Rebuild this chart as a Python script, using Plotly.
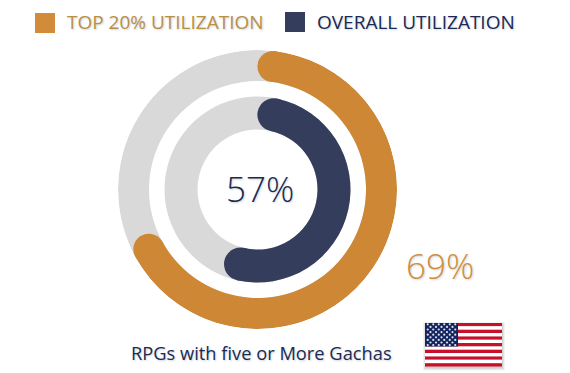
import math
import plotly.graph_objects as go

# ---- data ----
series_names = ["TOP 20% UTILIZATION", "OVERALL UTILIZATION"]
series_values = [69, 57]
caption = "RPGs with five or More Gachas"

# ---- style ----
ORANGE = "#CD8735"
NAVY = "#343D5C"
GREY = "#D9D9D9"
TEXT_ORANGE = "#B98F45"
TEXT_NAVY = "#1B2A52"
FONT = "Open Sans"
W, H = 570, 373
CX, CY, R = 257.5, 189.5, 139.5
rings = [(108.5, 139.5, ORANGE), (60.0, 93.0, NAVY)]

fig = go.Figure()

# hidden pixel-space axes for decorations
fig.add_trace(go.Scatter(x=[], y=[], xaxis="x", yaxis="y", showlegend=False))

for value, (r0, r1, color) in zip(series_values, rings):
    thick = r1 - r0
    mid = (r0 + r1) / 2
    cap = math.degrees((thick / 2) / mid)
    end = value * 3.6
    fig.add_trace(go.Barpolar(r=[thick], base=[r0], theta=[180], width=[359.99],
                              marker=dict(color=GREY, line_width=0), showlegend=False))
    a0, a1 = cap, end - cap
    fig.add_trace(go.Barpolar(r=[thick], base=[r0], theta=[(a0 + a1) / 2], width=[a1 - a0],
                              marker=dict(color=color, line_width=0), showlegend=False))
    fig.add_trace(go.Scatterpolar(r=[mid, mid], theta=[a0, a1], mode="markers",
                                  marker=dict(color=color, size=thick, line_width=0),
                                  showlegend=False))

shapes = []
def rect(x0, y0, x1, y1, color, op=1.0):
    shapes.append(dict(type="rect", xref="x", yref="y", x0=x0, y0=y0, x1=x1, y1=y1,
                       fillcolor=color, opacity=op, line_width=0, layer="below"))

# legend swatches
rect(35, 13, 55, 33, "#D28B3A")
rect(285, 12, 305, 32, NAVY)

# flag: soft shadow, stripes, canton
FX0, FX1, FY0, FY1 = 425.0, 502.0, 323.0, 366.5
for off, op in ((3, 0.07), (2, 0.10), (1, 0.14)):
    rect(FX0 - off + 1, FY0 - off + 2, FX1 + off, FY1 + off + 1, "#555555", op)
sh = (FY1 - FY0) / 13
for i in range(13):
    rect(FX0, FY0 + i * sh, FX1, FY0 + (i + 1) * sh, "#C8102A" if i % 2 == 0 else "#FFFFFF")
CANT_X, CANT_Y = 458.0, FY0 + 7 * sh
rect(FX0, FY0, CANT_X, CANT_Y, "#14245E")

sx, sy = [], []
for row in range(9):
    n = 6 if row % 2 == 0 else 5
    for c in range(n):
        sx.append(FX0 + (CANT_X - FX0) * ((c + (0 if row % 2 == 0 else 0.5) + 0.5) / 6))
        sy.append(FY0 + (CANT_Y - FY0) * ((row + 0.5) / 9))
fig.add_trace(go.Scatter(x=sx, y=sy, mode="markers", xaxis="x", yaxis="y", showlegend=False,
                         marker=dict(symbol="circle", size=2.2, color="#DDE2F0", line_width=0)))

def label(text, x, y, size, color, anchor="left", weight=400):
    return dict(text=text, x=x, y=y, xref="x", yref="y", showarrow=False, xanchor=anchor,
                yanchor="middle",
                font=dict(family=FONT, size=size, color=color, weight=weight,
                          shadow="1px 1px 2px rgba(90,110,130,0.3)"))

annotations = [
    label(series_names[0], 65, 22, 19, TEXT_ORANGE),
    label(series_names[1], 315, 22, 19, TEXT_NAVY),
    label(f"{series_values[1]}%", 259.5, 188.5, 35, TEXT_NAVY, "center", 300),
    label(f"{series_values[0]}%", 439.5, 265, 35, "#CF8F3E", "center", 300),
    label(caption, 261.5, 352, 18.3, TEXT_NAVY, "center"),
]

hidden = dict(visible=False, showgrid=False, zeroline=False, fixedrange=True)
fig.update_layout(
    width=W, height=H, autosize=False, margin=dict(l=0, r=0, t=0, b=0),
    paper_bgcolor="white", plot_bgcolor="rgba(0,0,0,0)", showlegend=False,
    xaxis=dict(range=[0, W], domain=[0, 1], **hidden),
    yaxis=dict(range=[H, 0], domain=[0, 1], **hidden),
    polar=dict(
        domain=dict(x=[(CX - R) / W, (CX + R) / W], y=[(H - CY - R) / H, (H - CY + R) / H]),
        bgcolor="rgba(0,0,0,0)", barmode="overlay",
        radialaxis=dict(visible=False, range=[0, R]),
        angularaxis=dict(visible=False, rotation=90, direction="clockwise"),
    ),
    shapes=shapes, annotations=annotations,
)
fig.write_html("out.html", config=dict(displayModeBar=False),
               post_script="document.body.style.margin='0';document.body.style.overflow='hidden';")
